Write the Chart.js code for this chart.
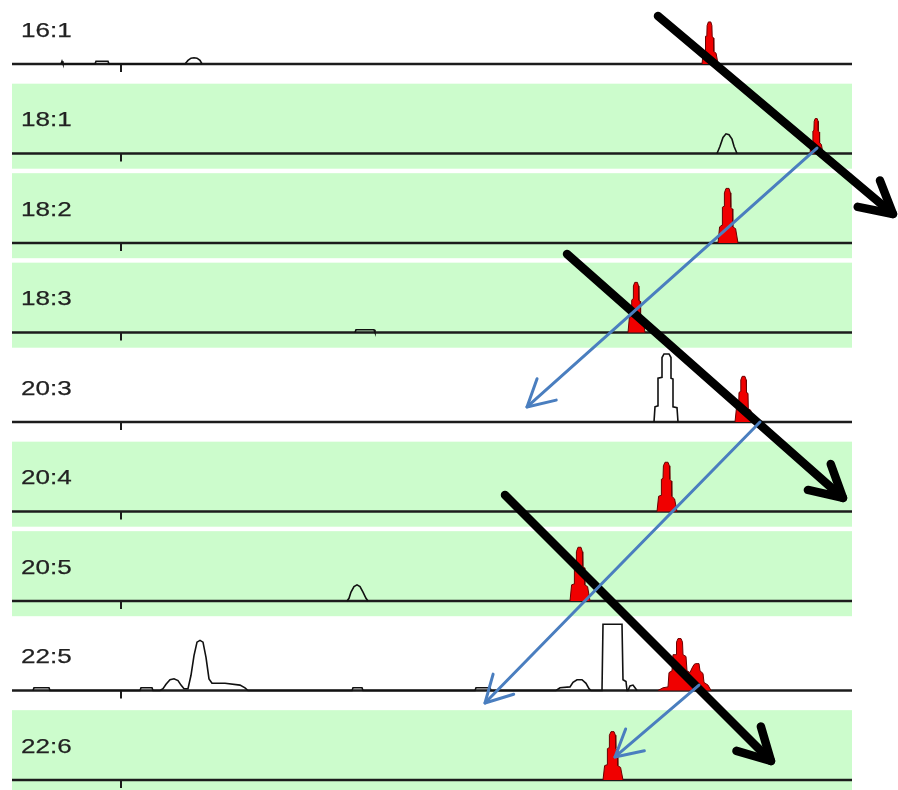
<!DOCTYPE html>
<html>
<head>
<meta charset="utf-8">
<script src="https://cdn.jsdelivr.net/npm/chart.js@4.4.1/dist/chart.umd.min.js"></script>
<style>
  html, body { margin: 0; padding: 0; background: #fff; }
  canvas { display: block; }
</style>
</head>
<body>
<canvas id="chrom" width="898" height="790"></canvas>
<script>
// Fatty-acid species, one trace per row, top to bottom
const speciesLabels = ['16:1', '18:1', '18:2', '18:3', '20:3', '20:4', '20:5', '22:5', '22:6'];
const shadedRows    = [false, true, true, true, false, true, true, false, true];
const timeTicks     = [10.9];

// Unfilled trace features: [retention time, intensity]
const trace16_1 = [[4.9,0],[5.0,3],[5.1,0],[8.3,0],[8.4,3],[9.6,3],[9.7,0],[17.3,0],[17.6,4],[17.9,6.5],[18.2,7],[18.5,6.5],[18.8,4],[19.0,0]];
const trace18_1 = [[70.5,0],[70.8,8],[71.1,18],[71.4,22],[71.7,21],[72.0,16],[72.2,8],[72.5,0]];
const trace18_2 = [];
const trace18_3 = [[34.3,0],[34.4,3],[36.2,3],[36.3,0]];
const trace20_3 = [[64.2,0],[64.3,17],[64.6,18],[64.6,49],[65.0,50],[65.0,72],[65.2,76],[65.7,76],[65.9,72],[65.9,49],[66.1,48],[66.1,17],[66.5,16],[66.6,0]];
const trace20_4 = [];
const trace20_5 = [[33.5,0],[33.7,3],[33.9,10],[34.2,16],[34.5,18],[34.8,16],[35.1,10],[35.4,3],[35.6,0]];
const trace22_5 = [[2.1,0],[2.2,3],[3.7,3],[3.8,0],[12.8,0],[12.9,3],[14.0,3],[14.1,0],
  [14.8,0],[15.1,2],[15.4,7],[15.8,12],[16.2,13],[16.6,11],[16.9,6],[17.2,2],[17.6,2],[17.9,17],[18.2,39],[18.5,54],[18.8,56],[19.1,54],[19.4,37],[19.7,13],[20.0,8],[21.3,8],[22.8,6],[23.3,3],[23.6,0],
  [34.0,0],[34.1,3],[35.0,3],[35.1,0],[46.3,0],[46.4,3],[47.8,3],[47.9,0],
  [54.4,0],[54.8,3],[55.8,4],[56.1,9],[56.5,12],[57.0,12],[57.4,8],[57.7,2],[57.9,0],
  [59.0,0],[59.1,74],[61.0,74],[61.1,12],[61.4,10],[61.5,0],[61.6,0],[61.8,5],[62.1,6],[62.3,3],[62.5,0]];
const trace22_6 = [];

// Identified (red) peaks: [retention time, intensity]
const peak16_1 = [[69.0,0],[69.13,14],[69.32,15],[69.35,31],[69.48,31],[69.51,43],[69.64,47],[69.88,47],[69.99,43],[70.02,31],[70.15,29],[70.18,14],[70.41,12],[70.6,0]];
const peak18_1 = [[79.8,0],[79.9,12],[80.06,12],[80.09,25],[80.19,26],[80.22,36],[80.32,39],[80.52,39],[80.61,36],[80.63,25],[80.74,24],[80.76,12],[80.94,10],[81.1,0]];
const peak18_2 = [[70.6,0],[70.76,18],[71.0,20],[71.04,40],[71.2,41],[71.24,56],[71.4,61],[71.7,61],[71.84,56],[71.88,40],[72.04,38],[72.08,18],[72.36,16],[72.6,0]];
const peak18_3 = [[61.6,0],[61.74,17],[61.94,18],[61.97,36],[62.11,38],[62.14,52],[62.28,56],[62.54,56],[62.65,52],[62.69,36],[62.82,35],[62.86,17],[63.1,15],[63.3,0]];
const peak20_3 = [[72.3,0],[72.44,15],[72.66,16],[72.7,33],[72.84,34],[72.88,47],[73.02,51],[73.29,51],[73.42,47],[73.45,33],[73.6,32],[73.63,15],[73.88,13],[74.1,0]];
const peak20_4 = [[64.5,0],[64.66,17],[64.9,18],[64.94,36],[65.1,37],[65.14,51],[65.3,55],[65.6,55],[65.74,51],[65.78,36],[65.94,34],[65.98,17],[66.26,14],[66.5,0]];
const peak20_5 = [[55.8,0],[55.96,18],[56.2,19],[56.24,39],[56.4,40],[56.44,55],[56.6,60],[56.9,60],[57.04,55],[57.08,39],[57.24,37],[57.28,18],[57.56,16],[57.8,0]];
const peak22_5 = [[64.6,0],[65.1,3],[65.6,4],[65.7,20],[66.0,22],[66.1,40],[66.4,40],[66.45,54],[66.6,58],[66.9,58],[67.05,54],[67.1,40],[67.4,38],[67.5,22],[67.8,20],[68.0,25],[68.2,29],[68.35,30],[68.7,30],[68.8,22],[69.1,19],[69.2,9],[69.6,6],[69.9,0]];
const peak22_6 = [[59.1,0],[59.26,16],[59.5,17],[59.54,35],[59.7,36],[59.74,50],[59.9,54],[60.2,54],[60.34,50],[60.38,35],[60.54,33],[60.58,16],[60.86,14],[61.1,0]];

// Annotation arrows in chart units: [x1, y1, x2, y2]
const elongationArrows   = [[64.6,853.6,88.1,632.4],[55.5,587.7,83.1,315.1],[49.3,318.4,75.9,21.2]];
const desaturationArrows = [[80.5,706.1,51.5,416.8],[74.8,400.0,47.3,86.0],[68.7,106.1,60.3,25.7]];

const traceList = [trace16_1, trace18_1, trace18_2, trace18_3, trace20_3, trace20_4, trace20_5, trace22_5, trace22_6];
const peakList  = [peak16_1, peak18_1, peak18_2, peak18_3, peak20_3, peak20_4, peak20_5, peak22_5, peak22_6];

const ROW_STEP = 100;
const X_MAX = 84;
const rowCount = speciesLabels.length;
const rowOffset = i => (rowCount - 1 - i) * ROW_STEP;
const toPoints = (arr, off) => arr.map(([x, h]) => ({ x: x, y: off + h }));

const datasets = [];
traceList.forEach((tr, i) => {
  if (!tr.length) return;
  datasets.push({
    data: toPoints(tr, rowOffset(i)),
    borderColor: '#111', borderWidth: 1.6, fill: false,
    pointRadius: 0, tension: 0, order: 2
  });
});
peakList.forEach((pk, i) => {
  const off = rowOffset(i);
  datasets.push({
    data: toPoints(pk, off),
    borderColor: '#6a0000', borderWidth: 1, backgroundColor: '#f00000',
    fill: { value: off }, pointRadius: 0, tension: 0, order: 1
  });
});

function arrow(ctx, x1, y1, x2, y2, color, width, headLen, headAng) {
  ctx.save();
  ctx.strokeStyle = color;
  ctx.lineWidth = width;
  ctx.lineCap = 'round';
  ctx.lineJoin = 'round';
  ctx.beginPath();
  ctx.moveTo(x1, y1);
  ctx.lineTo(x2, y2);
  ctx.stroke();
  const a = Math.atan2(y1 - y2, x1 - x2);
  ctx.beginPath();
  ctx.moveTo(x2 + headLen * Math.cos(a - headAng), y2 + headLen * Math.sin(a - headAng));
  ctx.lineTo(x2, y2);
  ctx.lineTo(x2 + headLen * Math.cos(a + headAng), y2 + headLen * Math.sin(a + headAng));
  ctx.stroke();
  ctx.restore();
}

const lanePlugin = {
  id: 'lanes',
  beforeDraw(chart) {
    const ctx = chart.ctx;
    ctx.save();
    ctx.fillStyle = '#fff';
    ctx.fillRect(0, 0, chart.width, chart.height);
    ctx.restore();
  },
  beforeDatasetsDraw(chart) {
    const { ctx, chartArea, scales: { x, y } } = chart;
    ctx.save();
    // shaded lanes
    ctx.fillStyle = '#ccfccc';
    speciesLabels.forEach((_, i) => {
      if (!shadedRows[i]) return;
      const off = rowOffset(i);
      const top = y.getPixelForValue(off + 78);
      const bot = y.getPixelForValue(off - 17);
      ctx.fillRect(chartArea.left, top, chartArea.right - chartArea.left, bot - top);
    });
    // baselines and time ticks
    speciesLabels.forEach((_, i) => {
      const py = y.getPixelForValue(rowOffset(i));
      ctx.strokeStyle = '#1c1c1c';
      ctx.lineWidth = 2.4;
      ctx.beginPath();
      ctx.moveTo(chartArea.left, py);
      ctx.lineTo(chartArea.right, py);
      ctx.stroke();
      ctx.lineWidth = 2;
      timeTicks.forEach(t => {
        const px = x.getPixelForValue(t);
        ctx.beginPath();
        ctx.moveTo(px, py);
        ctx.lineTo(px, py + 8);
        ctx.stroke();
      });
    });
    ctx.restore();
  },
  afterDatasetsDraw(chart) {
    const { ctx, scales: { x, y } } = chart;
    ctx.save();
    // species labels
    ctx.fillStyle = '#222';
    ctx.strokeStyle = '#222';
    ctx.lineWidth = 0.25;
    ctx.font = '21px "Liberation Sans", Arial, sans-serif';
    ctx.textBaseline = 'middle';
    ctx.textAlign = 'left';
    speciesLabels.forEach((lab, i) => {
      const py = y.getPixelForValue(rowOffset(i)) - 33;
      ctx.save();
      ctx.translate(21, py);
      ctx.scale(1.24, 1);
      ctx.fillText(lab, 0, 0);
      ctx.strokeText(lab, 0, 0);
      ctx.restore();
    });
    ctx.restore();
    // chain elongation (black) and desaturation (blue) arrows
    elongationArrows.forEach(([x1, y1, x2, y2]) => {
      arrow(ctx, x.getPixelForValue(x1), y.getPixelForValue(y1),
            x.getPixelForValue(x2), y.getPixelForValue(y2), '#000', 8.5, 36, 0.5);
    });
    desaturationArrows.forEach(([x1, y1, x2, y2]) => {
      arrow(ctx, x.getPixelForValue(x1), y.getPixelForValue(y1),
            x.getPixelForValue(x2), y.getPixelForValue(y2), '#4a7ebf', 3, 30, 0.5);
    });
  }
};

new Chart(document.getElementById('chrom'), {
  type: 'line',
  data: { datasets: datasets },
  options: {
    responsive: false,
    animation: false,
    devicePixelRatio: 1,
    layout: { padding: { left: 12, right: 46, top: 0, bottom: 0 } },
    plugins: { legend: { display: false }, tooltip: { enabled: false } },
    scales: {
      x: { type: 'linear', min: 0, max: X_MAX, display: false },
      y: { type: 'linear', min: -11.2, max: 871.5, display: false }
    }
  },
  plugins: [lanePlugin]
});
</script>
</body>
</html>
